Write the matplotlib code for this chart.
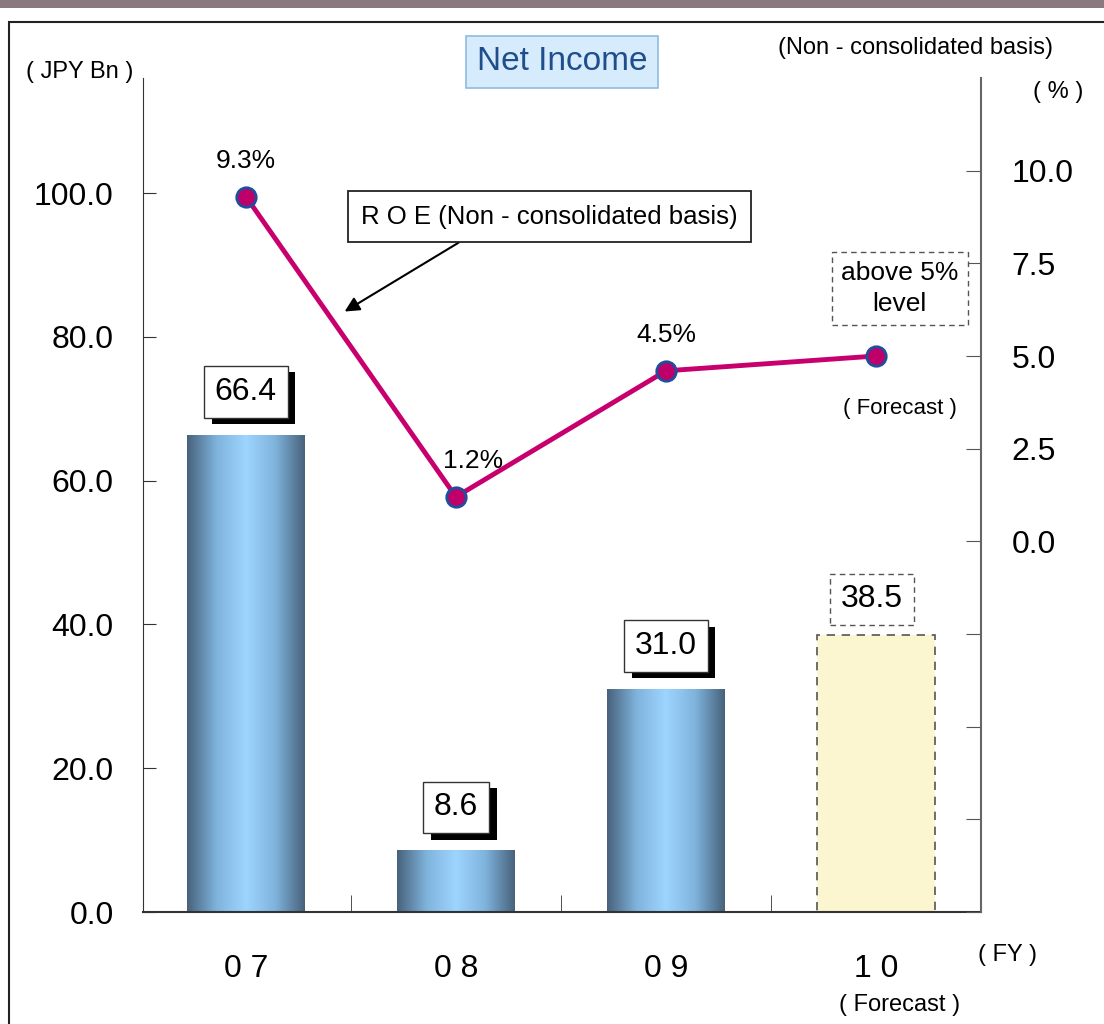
import matplotlib
matplotlib.use("Agg")
import matplotlib.pyplot as plt
import matplotlib.patheffects as pe
import numpy as np
from matplotlib.colors import LinearSegmentedColormap
from matplotlib.patches import Rectangle

plt.rcParams['font.family'] = ['Liberation Sans', 'DejaVu Sans']

# data
years = ['0 7', '0 8', '0 9', '1 0']
net_income = [66.4, 8.6, 31.0, 38.5]
income_labels = ['66.4', '8.6', '31.0', '38.5']
roe = [9.3, 1.2, 4.6, 5.0]
roe_labels = ['9.3%', '1.2%', '4.5%', '']
left_ticks = [0, 20, 40, 60, 80, 100]
right_ticks = [-10, -7.5, -5, -2.5, 0, 2.5, 5, 7.5, 10]

W, H = 1104, 1024
fig = plt.figure(figsize=(W / 100, H / 100), dpi=100)

def fx(px):
    return px / W

def fy(py):
    return 1 - py / H

# outer frame and top band
fig.patches.append(Rectangle((0, fy(8)), 1, 8 / H, transform=fig.transFigure,
                             facecolor='#8a7a80', edgecolor='none'))
fig.patches.append(Rectangle((fx(9), -0.01), 1.1, fy(22) + 0.01, transform=fig.transFigure,
                             facecolor='none', edgecolor='#222222', linewidth=1.5))

ax = fig.add_axes([fx(143), fy(912), fx(981) - fx(143), fy(78) - fy(912)])

x = np.arange(len(years))
bw = 0.56
grad_cmap = LinearSegmentedColormap.from_list('bar', ['#48627c', '#7fb3dc', '#9dd5ff', '#7fb3dc', '#48627c'])
gradient = np.linspace(0, 1, 256).reshape(1, -1)

bars = ax.bar(x, net_income, width=bw, color='none', edgecolor='none', zorder=2)
for i, b in enumerate(bars):
    if i < 3:
        im = ax.imshow(gradient, extent=[b.get_x(), b.get_x() + bw, 0, b.get_height()],
                       aspect='auto', cmap=grad_cmap, zorder=2)
        im.set_clip_path(b)
    else:
        b.set_facecolor('#fbf5d0')
        b.set_edgecolor('#555555')
        b.set_linestyle((0, (5, 4)))
        b.set_linewidth(1.2)
ax.set_xlim(-0.49, 3.5)
ax.set_ylim(0, 116)

# value boxes (white box with a solid black drop shadow)
shadow = [pe.SimplePatchShadow(offset=(5.5, -4.5), shadow_rgbFace='black', alpha=1), pe.Normal()]
for i, (xi, v, lab) in enumerate(zip(x, net_income, income_labels)):
    if i < 3:
        t = ax.annotate(lab, (xi, v), xytext=(0, 20), textcoords='offset points',
                        ha='center', va='bottom', fontsize=23, zorder=6,
                        bbox=dict(boxstyle='square,pad=0.34', facecolor='white', edgecolor='#333333',
                                  linewidth=1))
        t.get_bbox_patch().set_path_effects(shadow)
    else:
        ax.annotate(lab, (xi, v), xytext=(-3, 15), textcoords='offset points',
                    ha='center', va='bottom', fontsize=23, zorder=6,
                    bbox=dict(boxstyle='square,pad=0.34', facecolor='white', edgecolor='#555555',
                              linestyle=(0, (4, 3)), linewidth=1))

ax.set_yticks(left_ticks)
ax.set_yticklabels([f'{t:.1f}' for t in left_ticks], fontsize=23)
ax.tick_params(axis='y', direction='in', length=9, pad=21, color='#333333')
ax.set_xticks(x)
ax.set_xticklabels(years, fontsize=23)
ax.set_xticks([0.5, 1.5, 2.5], minor=True)
ax.tick_params(axis='x', which='major', length=0, pad=30)
ax.tick_params(axis='x', which='minor', direction='in', length=12, color='#333333')
for s in ['top', 'right']:
    ax.spines[s].set_visible(False)
ax.spines['left'].set_color('#333333')
ax.spines['bottom'].set_color('#333333')
ax.spines['bottom'].set_linewidth(1.5)

# ROE axis
ax2 = ax.twinx()
ax2.set_ylim(-9.9, 12.5)
ax2.plot(x, roe, color='#c8006e', linewidth=3.5, marker='o', markersize=14,
         markerfacecolor='#c0006a', markeredgecolor='#1f4e9c', markeredgewidth=2, zorder=4)
ax2.set_yticks(right_ticks)
ax2.set_yticklabels([f'{t:.1f}' if t >= 0 else '' for t in right_ticks], fontsize=23)
ax2.tick_params(axis='y', direction='in', length=11, pad=22, color='#555555')
for s in ['top', 'left', 'bottom']:
    ax2.spines[s].set_visible(False)
ax2.spines['right'].set_color('#666666')
ax2.spines['right'].set_linewidth(1.5)

offsets = [(0, 17), (12, 17), (0, 17)]
for i, lab in enumerate(roe_labels):
    if lab:
        ax2.annotate(lab, (x[i], roe[i]), xytext=offsets[i], textcoords='offset points',
                     ha='center', va='bottom', fontsize=19)

ax2.annotate('above 5%\nlevel', (x[3], roe[3]), xytext=(17, 29), textcoords='offset points',
             ha='center', va='bottom', fontsize=19, linespacing=1.35,
             bbox=dict(boxstyle='square,pad=0.35', facecolor='white', edgecolor='#555555',
                       linestyle=(0, (4, 3)), linewidth=1))
ax2.annotate('( Forecast )', (x[3], roe[3]), xytext=(17, -30), textcoords='offset points',
             ha='center', va='top', fontsize=16)

ax2.annotate('R O E (Non - consolidated basis)', xy=(0.47, 6.2), xytext=(1.446, 8.76),
             ha='center', va='center', fontsize=18.5,
             bbox=dict(boxstyle='square,pad=0.52', facecolor='white', edgecolor='#222222', linewidth=1.3),
             arrowprops=dict(arrowstyle='-|>', color='black', linewidth=1.5, mutation_scale=22,
                             shrinkA=0, shrinkB=0, relpos=(0.32, 0.0)))

# titles and units
fig.text(fx(562), fy(62), 'Net Income', ha='center', va='center', fontsize=24, color='#1f4e8c',
         bbox=dict(boxstyle='square,pad=0.32', facecolor='#d6ebfb', edgecolor='#8fbbe0', linewidth=1.2))
fig.text(fx(80), fy(72), '( JPY Bn )', ha='center', va='center', fontsize=17)
fig.text(fx(916), fy(48), '(Non - consolidated basis)', ha='center', va='center', fontsize=17)
fig.text(fx(1058), fy(92), '( % )', ha='center', va='center', fontsize=17)
fig.text(fx(1008), fy(955), '( FY )', ha='center', va='center', fontsize=17)
fig.text(fx(900), fy(1005), '( Forecast )', ha='center', va='center', fontsize=17)

fig.savefig('out.png', dpi=100)
